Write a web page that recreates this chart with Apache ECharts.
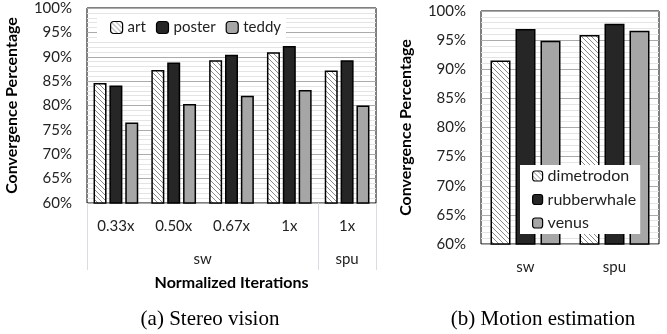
<!DOCTYPE html>
<html>
<head>
<meta charset="utf-8">
<script src="https://cdn.jsdelivr.net/npm/echarts@6/dist/echarts.min.js"></script>
<style>
  html, body { margin: 0; padding: 0; background: #fff; }
  #chart { width: 667px; height: 334px; }
</style>
</head>
<body>
<div id="chart"></div>
<script>
// (a) Stereo vision
const stereoIterations = ['0.33x', '0.50x', '0.67x', '1x', '1x'];
const stereoGroups = ['sw', 'spu'];
const artValues = [84.6, 87.3, 89.3, 90.9, 87.2];
const posterValues = [84.1, 88.8, 90.4, 92.2, 89.3];
const teddyValues = [76.5, 80.3, 82.0, 83.2, 80.0];

// (b) Motion estimation
const motionCategories = ['sw', 'spu'];
const dimetrodonValues = [91.5, 95.9];
const rubberwhaleValues = [96.9, 97.8];
const venusValues = [94.9, 96.6];

const FONT = 'Lato';

// Diagonal hatch fill for the first series of each panel
function hatchPattern() {
  const c = document.createElement('canvas');
  const s = 5;
  c.width = s; c.height = s;
  const g = c.getContext('2d');
  g.fillStyle = '#ffffff';
  g.fillRect(0, 0, s, s);
  g.strokeStyle = '#8a8a8a';
  g.lineWidth = 1;
  g.beginPath();
  g.moveTo(-1, -1); g.lineTo(s + 1, s + 1);
  g.moveTo(-1, s - 1); g.lineTo(1, s + 1);
  g.moveTo(s - 1, -1); g.lineTo(s + 1, 1);
  g.stroke();
  return { image: c, repeat: 'repeat' };
}
const hatch = hatchPattern();

const chart = echarts.init(document.getElementById('chart'));

function percentAxis(gridIndex) {
  return {
    type: 'value', gridIndex, min: 60, max: 100, interval: 5,
    name: 'Convergence Percentage', nameLocation: 'middle', nameGap: 67,
    nameTextStyle: { fontFamily: FONT, fontSize: 16, fontWeight: 'bold', color: '#000' },
    axisLine: { show: false }, axisTick: { show: false },
    axisLabel: { formatter: '{value}%', margin: 15, fontFamily: FONT, fontSize: 15, color: '#222' },
    splitLine: { lineStyle: { color: '#ababab', width: 1 } },
    minorTick: { show: false, splitNumber: 5 },
    minorSplitLine: { show: true, lineStyle: { color: '#e4e4e4', width: 1 } }
  };
}

function barSeries(name, data, color, xAxisIndex, yAxisIndex, barWidth, barGap, barCategoryGap) {
  return {
    name, type: 'bar', data, xAxisIndex, yAxisIndex,
    barWidth, barGap, barCategoryGap,
    itemStyle: { color, borderColor: '#000', borderWidth: 1.5 },
    emphasis: { disabled: true }
  };
}

const groupLabelAt = { 2: stereoGroups[0], 4.5: stereoGroups[1] };

chart.setOption({
  animation: false,
  backgroundColor: '#fff',
  title: [
    { text: '(a) Stereo vision', left: 205, top: 304, textAlign: 'center',
      textStyle: { fontFamily: 'Liberation Serif', fontSize: 21, fontWeight: 'normal', color: '#000' } },
    { text: '(b) Motion estimation', left: 538, top: 304, textAlign: 'center',
      textStyle: { fontFamily: 'Liberation Serif', fontSize: 21, fontWeight: 'normal', color: '#000' } }
  ],
  legend: [
    {
      data: ['art', 'poster', 'teddy'], orient: 'horizontal',
      left: 97, top: 15, padding: [4, 5, 4, 13], itemGap: 10,
      itemWidth: 12, itemHeight: 12, backgroundColor: '#fff',
      itemStyle: { borderColor: '#000', borderWidth: 1.2 },
      textStyle: { fontFamily: FONT, fontSize: 15, color: '#222', lineHeight: 17 },
      selectedMode: false
    },
    {
      data: ['dimetrodon', 'rubberwhale', 'venus'], orient: 'vertical',
      left: 520, top: 165, padding: [2, 4, 2, 12], itemGap: 5.5,
      itemWidth: 10, itemHeight: 10, backgroundColor: '#fff',
      itemStyle: { borderColor: '#000', borderWidth: 1.2 },
      textStyle: { fontFamily: FONT, fontSize: 16, color: '#222', lineHeight: 18 },
      selectedMode: false
    }
  ],
  grid: [
    { left: 87, top: 8, width: 289, height: 195, show: true, borderColor: '#000', borderWidth: 1, backgroundColor: 'transparent' },
    { left: 481, top: 11, width: 178, height: 233, show: true, borderColor: '#000', borderWidth: 1, backgroundColor: 'transparent' }
  ],
  xAxis: [
    {
      type: 'category', gridIndex: 0, data: stereoIterations,
      name: 'Normalized Iterations', nameLocation: 'middle', nameGap: 72,
      nameTextStyle: { fontFamily: FONT, fontSize: 16, fontWeight: 'bold', color: '#000' },
      axisLine: { show: false }, axisTick: { show: false },
      axisLabel: { margin: 16, fontFamily: FONT, fontSize: 15, color: '#222' }
    },
    {
      // second label row: sw / spu groups with separators
      type: 'value', gridIndex: 0, min: 0, max: 5, position: 'bottom',
      axisLine: { show: false }, splitLine: { show: false },
      axisTick: { show: true, inside: false, length: 67, customValues: [0, 4, 5],
                  lineStyle: { color: '#d9dde3', width: 1 } },
      axisLabel: { customValues: [2, 4.5], margin: 49, fontFamily: FONT, fontSize: 15, color: '#222',
                   formatter: v => groupLabelAt[v] || '' }
    },
    {
      type: 'category', gridIndex: 1, data: motionCategories,
      axisLine: { show: false }, axisTick: { show: false },
      axisLabel: { margin: 16, fontFamily: FONT, fontSize: 15, color: '#222' }
    }
  ],
  yAxis: [percentAxis(0), percentAxis(1)],
  series: [
    barSeries('art', artValues, hatch, 0, 0, 13, '22%', '24%'),
    barSeries('poster', posterValues, '#262626', 0, 0, 13, '22%', '24%'),
    barSeries('teddy', teddyValues, '#a6a6a6', 0, 0, 13, '22%', '24%'),
    barSeries('dimetrodon', dimetrodonValues, hatch, 2, 1, 20, '25%', '21%'),
    barSeries('rubberwhale', rubberwhaleValues, '#262626', 2, 1, 20, '25%', '21%'),
    barSeries('venus', venusValues, '#a6a6a6', 2, 1, 20, '25%', '21%')
  ]
});
</script>
</body>
</html>
